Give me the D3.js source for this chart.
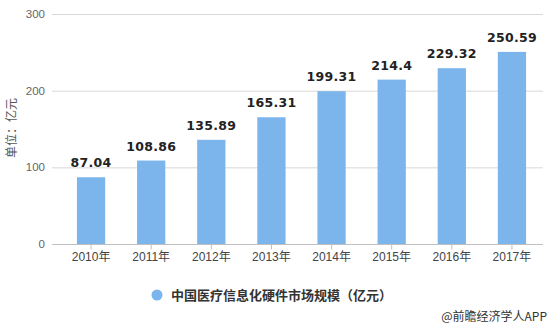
<!DOCTYPE html>
<html><head><meta charset="utf-8">
<script src="https://cdn.jsdelivr.net/npm/d3@7"></script>
<style>body{margin:0;background:#fff}svg{display:block;font-family:"Noto Sans CJK SC","Microsoft YaHei",sans-serif}</style>
</head><body>
<svg id="c" width="556" height="328"></svg>
<script>
const categories = ["2010年","2011年","2012年","2013年","2014年","2015年","2016年","2017年"];
const values = [87.04,108.86,135.89,165.31,199.31,214.4,229.32,250.59];
const valueLabels = ["87.04","108.86","135.89","165.31","199.31","214.4","229.32","250.59"];
const yTicks = [0,100,200,300];
const seriesName = "中国医疗信息化硬件市场规模（亿元）";
const yTitle = "单位：亿元";
const source = "@前瞻经济学人APP";

const svg = d3.select("#c");
const x = d3.scaleBand().domain(categories).range([61,542]).paddingInner(0.53).paddingOuter(0.265);
const y = d3.scaleLinear().domain([0,300]).range([244,14]);

// gridlines
svg.append("g").selectAll("line").data(yTicks.filter(d=>d>0)).join("line")
  .attr("x1",52).attr("x2",543).attr("y1",d=>y(d)+0.5).attr("y2",d=>y(d)+0.5)
  .attr("stroke","#d8d8d8").attr("stroke-width",1);

// y labels
svg.append("g").selectAll("text").data(yTicks).join("text")
  .attr("x",45).attr("y",d=>y(d)+4).attr("text-anchor","end")
  .attr("font-size",11.5).attr("fill","#666").attr("font-family","Arial, Liberation Sans, sans-serif").text(d=>d);

// y title
svg.append("text").attr("transform","translate(16,128) rotate(-90)").attr("text-anchor","middle")
  .attr("font-size",12).attr("fill","#555").text(yTitle);

// bars
svg.append("g").selectAll("rect").data(values).join("rect")
  .attr("x",(d,i)=>x(categories[i])).attr("width",x.bandwidth())
  .attr("y",d=>y(d)).attr("height",d=>y(0)-y(d)).attr("fill","#7cb5ec");

// x axis
const xa = svg.append("g").attr("transform","translate(0,244.5)")
  .call(d3.axisBottom(x).tickSize(5).tickSizeOuter(0));
xa.select(".domain").attr("stroke","#c0c0c0").attr("d","M52,0H543");
xa.selectAll(".tick line").attr("stroke","#c0c0c0");
xa.selectAll(".tick text").attr("font-size",12).attr("fill","#444").attr("dy","0.9em")
  .attr("font-family","Arial, Liberation Sans, 'Noto Sans CJK SC', sans-serif").attr("y",6);

// value labels
svg.append("g").selectAll("text").data(values).join("text")
  .attr("x",(d,i)=>x(categories[i])+x.bandwidth()/2).attr("y",d=>y(d)-10)
  .attr("text-anchor","middle").attr("font-size",12.5).attr("font-weight","bold")
  .attr("letter-spacing","0.3px").attr("fill","#222")
  .attr("font-family","Verdana, DejaVu Sans, sans-serif").text((d,i)=>valueLabels[i]);

// legend
svg.append("circle").attr("cx",157).attr("cy",295).attr("r",5.5).attr("fill","#7cb5ec");
svg.append("text").attr("x",171).attr("y",299.5).attr("font-size",13).attr("font-weight","bold")
  .attr("fill","#333").text(seriesName);

// source
svg.append("text").attr("x",547).attr("y",321).attr("text-anchor","end").attr("font-size",12)
  .attr("fill","#333").text(source);
</script>
</body></html>
